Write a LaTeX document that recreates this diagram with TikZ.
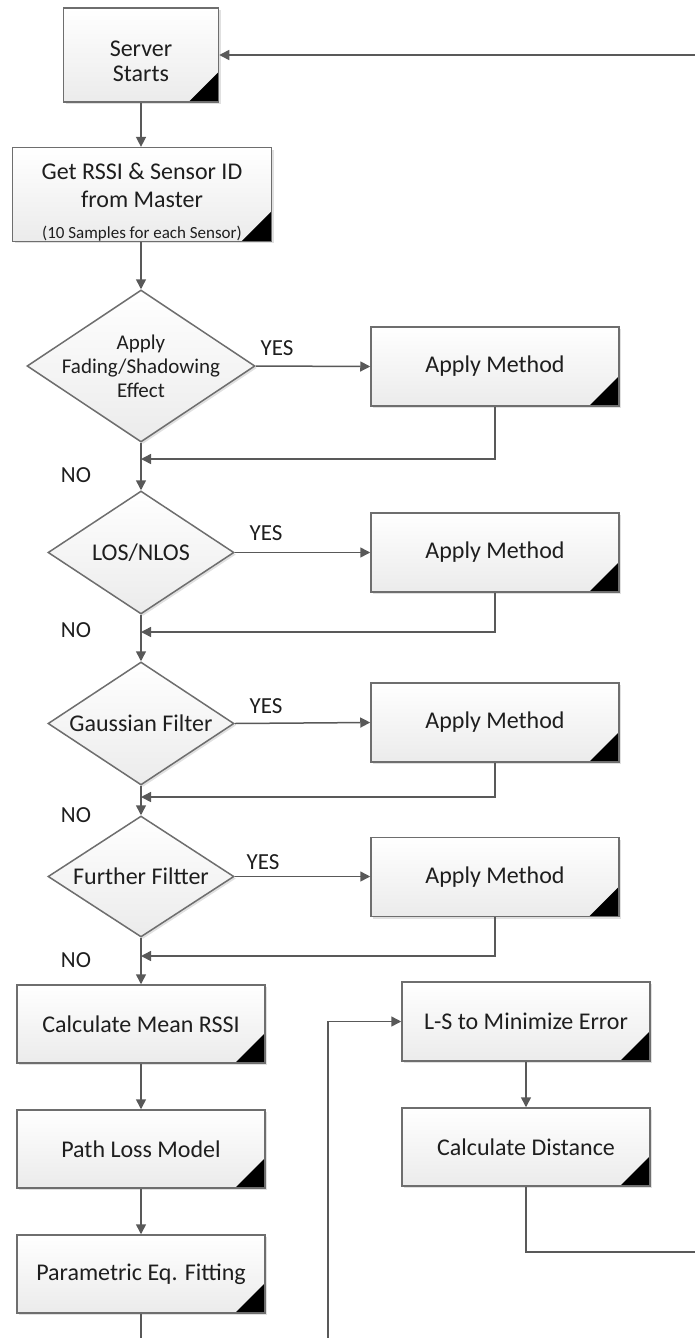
\documentclass[tikz,border=0pt]{standalone}
\usepackage{fontspec}
\setmainfont{Carlito}
\usetikzlibrary{shapes.geometric,arrows.meta,shadows}
\definecolor{boxborder}{HTML}{6E6E6E}
\definecolor{boxbottom}{HTML}{EBEBEB}
\definecolor{lnc}{HTML}{595959}
\definecolor{txt}{HTML}{1E1E1E}
\tikzset{
  corner/.style={path picture={\fill[black] (path picture bounding box.south east) -- ++(-15pt,0pt) -- ++(15pt,15pt) -- cycle;}},
  procbox/.style={draw=boxborder, line width=0.75pt, top color=white, bottom color=boxbottom,
    drop shadow={shadow xshift=1pt, shadow yshift=-1pt, fill=black, opacity=0.12},
    minimum width=124pt, minimum height=39.5pt, inner sep=0pt, text=txt, align=center,
    font=\fontsize{12}{14}\selectfont, corner},
  decision/.style={diamond, draw=boxborder, line width=0.75pt, top color=white, bottom color=boxbottom,
    drop shadow={shadow xshift=1pt, shadow yshift=-1pt, fill=black, opacity=0.12},
    inner sep=0pt, minimum width=93pt, minimum height=61.5pt},
  dtext/.style={text=txt, align=center, inner sep=0pt, font=\fontsize{12}{14}\selectfont},
  lbl/.style={text=txt, inner sep=0pt, font=\fontsize{11.5}{13}\selectfont},
  conn/.style={draw=lnc, line width=0.75pt},
  arr/.style={conn, -{Triangle[length=5pt,width=5pt]}},
}
\begin{document}
\begin{tikzpicture}[x=0.5pt,y=-0.5pt]
\useasboundingbox (0,0) rectangle (695,1338);

% process boxes
\node[procbox, minimum width=77.5pt, minimum height=47pt, font=\fontsize{12}{12.5}\selectfont] (start) at (141,55)
  {\rule{0pt}{14.5pt}Server\\Starts};
\node[procbox, minimum width=129.5pt, minimum height=45.5pt] (get) at (142,194.5)
  {\rule{0pt}{16pt}Get RSSI \& Sensor ID\\from Master\\[1.5pt]{\fontsize{8.5}{10}\selectfont (10 Samples for each Sensor)}};

% decisions
\node[decision, minimum width=114pt, minimum height=76pt] (d1) at (141,366) {};
\node[dtext, font=\fontsize{10.5}{12}\selectfont] (d1t) at (d1) {Apply\\Fading/Shadowing\\Effect};
\node[decision] (d2) at (141,552.5) {};
\node[dtext] (d2t) at (d2) {LOS/NLOS};
\node[decision] (d3) at (141,723.5) {};
\node[dtext] (d3t) at (d3) {Gaussian Filter};
\node[decision, minimum height=60.5pt] (d4) at (141,876.5) {};
\node[dtext] (d4t) at (d4) {Further Filtter};

% apply method boxes
\node[procbox] (m1) at (495,366.5) {Apply Method};
\node[procbox] (m2) at (495,552.5) {Apply Method};
\node[procbox] (m3) at (495,722.5) {Apply Method};
\node[procbox] (m4) at (495,877) {Apply Method};

% lower boxes
\node[procbox, minimum height=39pt] (mean) at (141,1024) {Calculate Mean RSSI};
\node[procbox, minimum height=39pt] (path) at (141,1149) {Path Loss Model};
\node[procbox, minimum height=39pt] (param) at (141,1274) {Parametric Eq. Fitting};
\node[procbox] (ls) at (526,1021.5) {L-S to Minimize Error};
\node[procbox, minimum height=39pt] (dist) at (526,1147) {Calculate Distance};

% labels
\node[lbl] (y1) at (277,348) {YES};
\node[lbl] (y2) at (266,533) {YES};
\node[lbl] (y3) at (266,706) {YES};
\node[lbl] (y4) at (263,862) {YES};
\node[lbl] (n1) at (76,475) {NO};
\node[lbl] (n2) at (76,630) {NO};
\node[lbl] (n3) at (76,815) {NO};
\node[lbl] (n4) at (76,960) {NO};

% coordinates
\coordinate (r1) at (141,459);
\coordinate (r2) at (141,632);
\coordinate (r3) at (141,797);
\coordinate (r4) at (141,956);
\coordinate (topin) at (695,55);
\coordinate (botout) at (141,1338);
\coordinate (lsfeed) at (328,1338);
\coordinate (distout) at (695,1252);

% connectors
\draw[arr] (topin) -- (start.east);
\draw[arr] (start.south) -- (start.south |- get.north);
\draw[arr] (get.south -| d1.north) -- (d1.north);
\draw[arr] (d1.east) -- (m1.west);
\draw[arr] (d2.east) -- (m2.west);
\draw[arr] (d3.east) -- (m3.west);
\draw[arr] (d4.east) -- (d4.east -| m4.west);
\draw[arr] (m1.south) |- (r1);
\draw[arr] (m2.south) |- (r2);
\draw[arr] (m3.south) |- (r3);
\draw[arr] (m4.south) |- (r4);
\draw[arr] (d1.south) -- (d2.north);
\draw[arr] (d2.south) -- (d3.north);
\draw[arr] (d3.south) -- (d4.north);
\draw[arr] (d4.south) -- (mean.north);
\draw[arr] (mean.south) -- (path.north);
\draw[arr] (path.south) -- (param.north);
\draw[conn] (param.south) -- (botout);
\draw[arr] (lsfeed) |- (ls.west);
\draw[arr] (ls.south) -- (dist.north);
\draw[conn] (dist.south) |- (distout);
\end{tikzpicture}
\end{document}
